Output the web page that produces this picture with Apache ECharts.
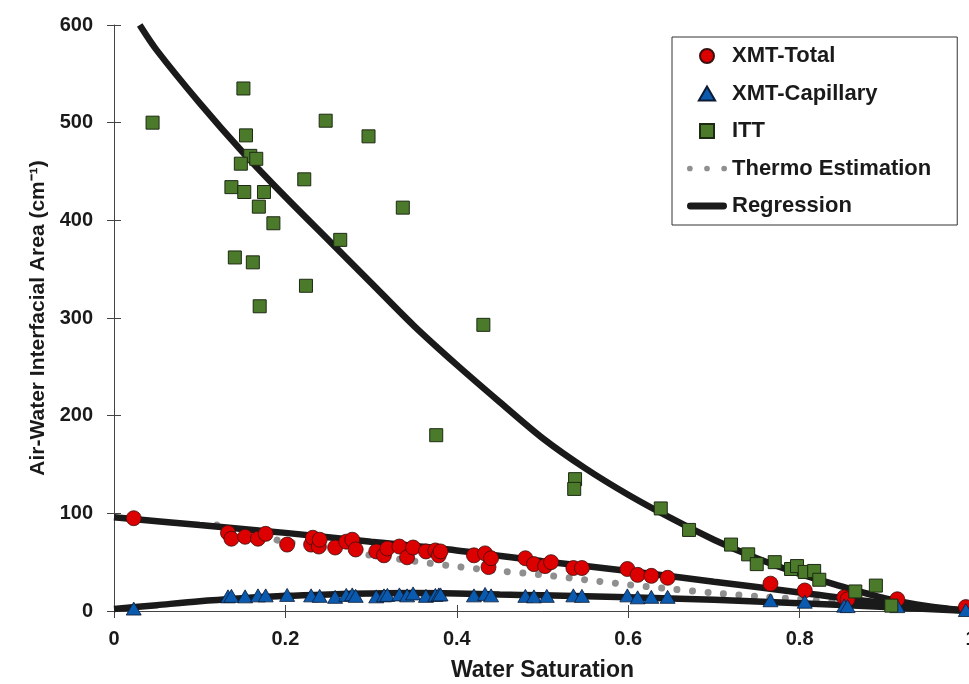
<!DOCTYPE html>
<html>
<head>
<meta charset="utf-8">
<script src="https://cdn.jsdelivr.net/npm/echarts@6/dist/echarts.min.js"></script>
<style>
  html, body { margin: 0; padding: 0; background: #fff; }
  #chart { width: 969px; height: 684px; }
</style>
</head>
<body>
<div id="chart"></div>
<script>
// --- data ---
const totalX = [0.023, 0.133, 0.137, 0.153, 0.168, 0.177, 0.202, 0.230, 0.232, 0.239, 0.240, 0.258, 0.271, 0.278, 0.282,
  0.306, 0.315, 0.319, 0.333, 0.342, 0.349, 0.364, 0.375, 0.379, 0.381, 0.420, 0.433, 0.437, 0.440, 0.480, 0.490,
  0.503, 0.510, 0.536, 0.546, 0.599, 0.611, 0.627, 0.646, 0.766, 0.806, 0.852, 0.856, 0.914, 0.994];
const totalY = [95, 80, 74, 76, 74, 79, 68, 68, 75, 66, 73, 65, 71, 73, 63,
  61, 57, 64, 66, 55, 65, 61, 62, 57, 61, 57, 59, 45, 54, 54, 48,
  46, 50, 44, 44, 43, 37, 36, 34, 28, 21, 14, 12, 12, 4];

const capX = [0.023, 0.133, 0.137, 0.153, 0.168, 0.177, 0.202, 0.230, 0.240, 0.258, 0.271, 0.278, 0.282, 0.306, 0.315,
  0.319, 0.333, 0.342, 0.349, 0.364, 0.375, 0.379, 0.381, 0.420, 0.433, 0.440, 0.480, 0.490, 0.505, 0.536, 0.546,
  0.599, 0.611, 0.627, 0.646, 0.766, 0.806, 0.852, 0.856, 0.914, 0.994];
const capY = [2.5, 15, 15.5, 15, 16, 16, 16.5, 16, 15.5, 14.5, 16.5, 17, 15.5, 15, 16,
  16.5, 17, 16, 18, 15.5, 16.5, 17, 17, 16, 17.5, 16, 15.5, 15, 15.5, 16, 15.5,
  16, 14, 14.5, 14.5, 11, 9.5, 5.5, 5, 5, 1];

const ittX = [0.045, 0.151, 0.154, 0.159, 0.166, 0.148, 0.222, 0.137, 0.152, 0.175, 0.169, 0.337, 0.186, 0.264, 0.141,
  0.162, 0.224, 0.170, 0.247, 0.297, 0.431, 0.376, 0.538, 0.537, 0.638, 0.671, 0.720, 0.740, 0.750, 0.771,
  0.790, 0.797, 0.806, 0.817, 0.823, 0.865, 0.889, 0.907];
const ittY = [500, 535, 487, 466, 463, 458, 442, 434, 429, 429, 414, 413, 397, 380, 362,
  357, 333, 312, 502, 486, 293, 180, 135, 125, 105, 83, 68, 58, 48, 50,
  43, 46, 40, 41, 32, 20, 26, 5.5];

const thermoX = [0.12, 0.15, 0.2, 0.25, 0.3, 0.35, 0.4, 0.45, 0.5, 0.55, 0.6, 0.65, 0.7, 0.75, 0.8, 0.86];
const thermoY = [88, 80, 71, 64, 57, 51, 45.5, 41, 37, 32, 27, 22.5, 18.5, 15, 12, 8];

const regIttX = [0.03, 0.05, 0.1, 0.15, 0.2, 0.25, 0.3, 0.35, 0.4, 0.45, 0.5, 0.55, 0.6, 0.65, 0.7, 0.75, 0.8, 0.85, 0.9, 0.95, 1];
const regIttY = [600, 574, 520, 470, 424, 380, 336, 292, 252, 214, 177, 146, 119, 95, 73, 54, 38, 25, 13, 5, 0];

const regTotalX = [0, 0.1, 0.2, 0.3, 0.4, 0.5, 0.6, 0.7, 0.8, 0.9, 1];
const regTotalY = [96, 88, 80, 71, 62, 51, 41, 30, 19, 8, 0];

const regCapX = [0, 0.05, 0.1, 0.15, 0.2, 0.25, 0.3, 0.35, 0.4, 0.45, 0.5, 0.6, 0.7, 0.8, 0.9, 1];
const regCapY = [2, 6, 10, 13, 15.5, 17, 18, 18.5, 18, 17, 16, 14, 11.5, 8, 4, 0];

const legendNames = ['XMT-Total', 'XMT-Capillary', 'ITT', 'Thermo Estimation', 'Regression'];

const zip = (xs, ys) => xs.map((x, i) => [x, ys[i]]);

const FONT = "'Liberation Sans', Arial, sans-serif";
const INK = '#1a1a1a';

// legend icons (path icons keep their aspect ratio)
const ICONS = {
  'XMT-Total': 'circle',
  'XMT-Capillary': 'path://M5,0L10,8.6L0,8.6Z',
  'ITT': 'path://M0,0L10,0L10,10L0,10Z',
  'Thermo Estimation': 'path://M0,3a3,3 0 1,0 6,0a3,3 0 1,0 -6,0M18,3a3,3 0 1,0 6,0a3,3 0 1,0 -6,0M36,3a3,3 0 1,0 6,0a3,3 0 1,0 -6,0',
  'Regression': 'path://M3.5,0L37.5,0A3.5,3.5 0 0,1 37.5,7L3.5,7A3.5,3.5 0 0,1 3.5,0Z'
};

const chart = echarts.init(document.getElementById('chart'));

// plot box fixed in pixels; the x=1 end sits just past the right edge like the original
const gridBox = { left: 114, top: 25, right: -2, bottom: 73, outerBoundsMode: 'none', containLabel: false };

const regLine = (xs, ys) => ({
  name: 'Regression',
  type: 'line',
  data: zip(xs, ys),
  smooth: 0.3,
  showSymbol: false,
  symbol: 'none',
  silent: true,
  lineStyle: { color: INK, width: 6.5 },
  itemStyle: { color: INK },
  z: 3
});

chart.setOption({
  animation: false,
  backgroundColor: '#fff',
  textStyle: { fontFamily: FONT },
  grid: [
    Object.assign({}, gridBox),
    Object.assign({}, gridBox)
  ],
  legend: {
    data: legendNames.map(n => ({ name: n, icon: ICONS[n] })),
    orient: 'vertical',
    left: 672,
    top: 37,
    padding: [8, 26, 8, 15],
    itemGap: 15.5,
    itemWidth: 40,
    itemHeight: 14,
    backgroundColor: '#fff',
    borderColor: '#333',
    borderWidth: 1,
    borderRadius: 0,
    textStyle: { fontFamily: FONT, fontSize: 22, fontWeight: 'bold', color: INK }
  },
  xAxis: [
    {
      type: 'value', gridIndex: 0, min: 0, max: 1, interval: 0.2,
      name: 'Water Saturation', nameLocation: 'middle', nameGap: 48,
      nameTextStyle: { fontFamily: FONT, fontSize: 23, fontWeight: 'bold', color: INK },
      axisLine: { show: true, lineStyle: { color: '#444', width: 1 } },
      axisTick: { show: true, inside: false, length: 7, lineStyle: { color: '#444' } },
      axisLabel: { fontFamily: FONT, fontSize: 20, fontWeight: 'bold', color: INK, margin: 18 },
      splitLine: { show: false }
    },
    {
      type: 'value', gridIndex: 1, min: 0, max: 1, interval: 0.2,
      axisLine: { show: false },
      axisTick: { show: true, inside: true, length: 6, lineStyle: { color: '#444' } },
      axisLabel: { show: false },
      splitLine: { show: false }
    }
  ],
  yAxis: [
    {
      type: 'value', gridIndex: 0, min: 0, max: 600, interval: 100,
      name: 'Air-Water Interfacial Area (cm⁻¹)', nameLocation: 'middle', nameGap: 58, nameRotate: 90,
      nameTextStyle: { fontFamily: FONT, fontSize: 21, fontWeight: 'bold', color: INK },
      axisLine: { show: true, lineStyle: { color: '#444', width: 1 } },
      axisTick: { show: true, inside: false, length: 7, lineStyle: { color: '#444' } },
      axisLabel: { fontFamily: FONT, fontSize: 20, fontWeight: 'bold', color: INK, margin: 21 },
      splitLine: { show: false }
    },
    {
      type: 'value', gridIndex: 1, min: 0, max: 600, interval: 100,
      axisLine: { show: false },
      axisTick: { show: true, inside: true, length: 7, lineStyle: { color: '#444' } },
      axisLabel: { show: false },
      splitLine: { show: false }
    }
  ],
  series: [
    {
      name: 'Thermo Estimation',
      type: 'line',
      data: zip(thermoX, thermoY),
      smooth: 0.3,
      showSymbol: false,
      symbol: 'none',
      silent: true,
      lineStyle: { color: '#8f8f8f', width: 7, type: [0.01, 15.5], cap: 'round' },
      itemStyle: { color: '#8f8f8f' },
      z: 2
    },
    regLine(regIttX, regIttY),
    regLine(regTotalX, regTotalY),
    regLine(regCapX, regCapY),
    {
      name: 'XMT-Total',
      type: 'scatter',
      data: zip(totalX, totalY),
      symbol: 'circle',
      symbolSize: 15,
      itemStyle: { color: '#dd0000', borderColor: '#3a1010', borderWidth: 0.8, opacity: 1 },
      z: 4
    },
    {
      name: 'XMT-Capillary',
      type: 'scatter',
      data: zip(capX, capY),
      symbol: 'triangle',
      symbolSize: [15, 13],
      itemStyle: { color: '#0a5bb0', borderColor: '#0c1a33', borderWidth: 0.8, opacity: 1 },
      z: 5
    },
    {
      name: 'ITT',
      type: 'scatter',
      data: zip(ittX, ittY),
      symbol: 'rect',
      symbolSize: 13,
      itemStyle: { color: '#4a7a2a', borderColor: '#1e2a14', borderWidth: 1, opacity: 1 },
      z: 6
    }
  ]
});
</script>
</body>
</html>
